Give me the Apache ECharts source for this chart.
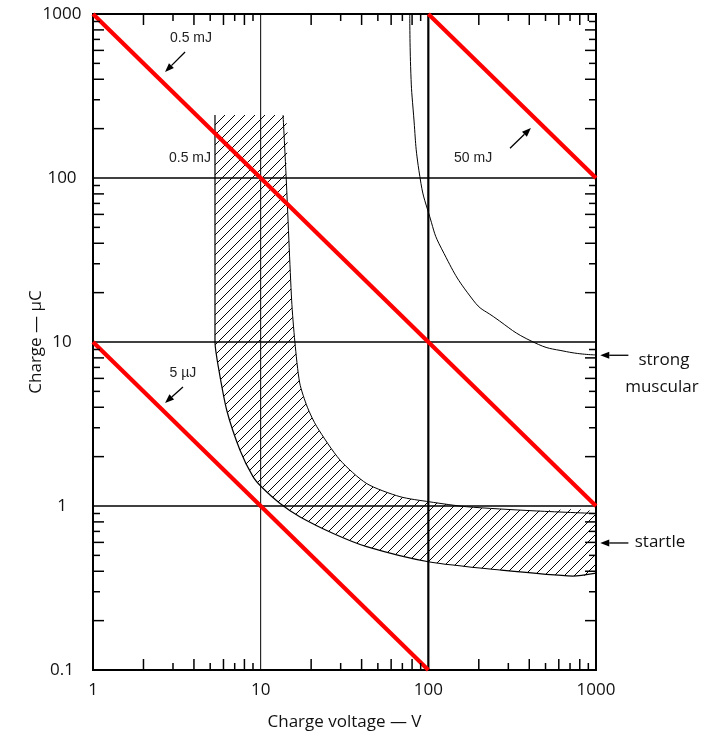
<!DOCTYPE html>
<html>
<head>
<meta charset="utf-8">
<script src="https://cdn.jsdelivr.net/npm/echarts@6/dist/echarts.min.js"></script>
<style>
html, body { margin: 0; padding: 0; background: #fff; }
#chart { width: 722px; height: 741px; }
</style>
</head>
<body>
<div id="chart"></div>
<script>
// tick labels
var xTickLabels = ['1', '10', '100', '1000'];
var yTickLabels = ['0.1', '1', '10', '100', '1000'];
var xDecades = [1, 10, 100];
var yDecades = [0.1, 1, 10, 100];
var minorSteps = [2, 3, 4, 5, 6, 7, 8, 9];

// energy lines (E = QV/2)
var line05mJ = [[1, 1000], [1000, 1]];
var line5uJ = [[1, 10], [100, 0.1]];
var line50mJ = [[100, 1000], [1000, 100]];

// reference lines
var gridY = [1, 10, 100];
var gridXThin = [10];
var gridXThick = [100];

// strong muscular threshold curve
var muscularCurve = [
  [77.5, 1000], [78.4, 478], [81.2, 260], [89, 102], [102, 58], [120, 37],
  [185, 18], [244, 14.3], [422, 10], [668, 8.73], [1000, 8.34]
];

// startle band (hatched)
var startleUpper = [
  [13.6, 242], [14.2, 100], [15.3, 18], [16.0, 10], [17.1, 5.62], [19.0, 4.0],
  [21.6, 3.05], [29.7, 1.91], [42.9, 1.37], [67.7, 1.14], [102, 1.06],
  [169, 0.99], [421, 0.935], [1000, 0.9]
];
var startleLower = [
  [5.34, 242], [5.34, 10], [5.59, 7.06], [6.27, 3.85], [7.53, 2.19], [9.0, 1.51],
  [10.1, 1.31], [13.0, 1.04], [17.1, 0.86], [27.1, 0.68], [42.9, 0.565],
  [100, 0.457], [267, 0.407], [728, 0.374], [1000, 0.39]
];

// annotations
var smallNotes = [
  { text: '0.5 mJ', at: [3.84, 714] },
  { text: '0.5 mJ', at: [3.79, 132] },
  { text: '5 µJ', at: [3.44, 6.47] },
  { text: '50 mJ', at: [185, 132] }
];
var sideNotes = [
  { text: 'strong', at: [2541, 7.76] },
  { text: 'muscular', at: [2474, 5.32] },
  { text: 'startle', at: [2408, 0.602] }
];
var arrows = [
  [[3.54, 586], [2.69, 443]],
  [[3.44, 5.32], [2.69, 4.25]],
  [[307, 152], [409, 202]],
  [[1560, 8.3], [1060, 8.3]],
  [[1560, 0.595], [1060, 0.595]]
];

var LABEL_FONT = '"Open Sans", "Liberation Sans", sans-serif';
var NOTE_FONT = '"Liberation Sans", Arial, sans-serif';

// hatch pattern
var hatch = document.createElement('canvas');
hatch.width = 10; hatch.height = 10;
var g = hatch.getContext('2d');
g.strokeStyle = '#000'; g.lineWidth = 1;
g.beginPath();
g.moveTo(-1, 11); g.lineTo(11, -1);
g.moveTo(-1, 1); g.lineTo(1, -1);
g.moveTo(9, 11); g.lineTo(11, 9);
g.stroke();

// minor tick data
var tickData = [];
xDecades.forEach(function (d) {
  minorSteps.forEach(function (m) { tickData.push([d * m, 0.1, m % 2 === 0 ? 11 : 7, 0]); });
});
yDecades.forEach(function (d) {
  minorSteps.forEach(function (m) { tickData.push([1, d * m, m % 2 === 0 ? 11 : 7, 1]); });
});

function hLine(v) { return [[1, v], [1000, v]]; }
function vLine(v) { return [[v, 0.1], [v, 1000]]; }

function straight(data, width, color, z) {
  return {
    type: 'line', data: data, symbol: 'none', silent: true, z: z,
    lineStyle: { color: color, width: width }
  };
}

var series = [];
gridY.forEach(function (v) { series.push(straight(hLine(v), 1.6, '#000', 2)); });
gridXThin.forEach(function (v) { series.push(straight(vLine(v), 1, '#000', 2)); });
gridXThick.forEach(function (v) { series.push(straight(vLine(v), 2.2, '#000', 2)); });

// keep bezier control points inside the outline's bounding box
var keepInside = [[Infinity, Infinity], [-Infinity, -Infinity]];

series.push({
  type: 'custom', z: 3, silent: true,
  data: [[1, 1]],
  renderItem: function (params, api) {
    var up = startleUpper.map(function (p) { return api.coord(p); });
    var lo = startleLower.map(function (p) { return api.coord(p); });
    var mu = muscularCurve.map(function (p) { return api.coord(p); });
    var poly = lo.concat(up.slice().reverse());
    return {
      type: 'group',
      children: [
        { type: 'polygon', shape: { points: poly, smooth: 0.25, smoothConstraint: keepInside },
          style: { fill: { image: hatch, repeat: 'repeat' }, stroke: null } },
        { type: 'polyline', shape: { points: up, smooth: 0.25, smoothConstraint: keepInside },
          style: { stroke: '#000', lineWidth: 1, fill: null } },
        { type: 'polyline', shape: { points: lo, smooth: 0.25, smoothConstraint: keepInside },
          style: { stroke: '#000', lineWidth: 1.2, fill: null } },
        { type: 'polyline', shape: { points: mu, smooth: 0.5, smoothConstraint: keepInside },
          style: { stroke: '#000', lineWidth: 1, fill: null } }
      ]
    };
  }
});

[line05mJ, line5uJ, line50mJ].forEach(function (d) {
  series.push(straight(d, 4.2, '#ff0000', 5));
});

series.push({
  type: 'custom', z: 6, silent: true, clip: false,
  data: tickData,
  renderItem: function (params, api) {
    var len = api.value(2);
    var kind = api.value(3);
    var a, b;
    if (kind === 0) {
      a = api.coord([api.value(0), 0.1]);
      b = api.coord([api.value(0), 1000]);
      return { type: 'group', children: [
        { type: 'line', shape: { x1: a[0], y1: a[1], x2: a[0], y2: a[1] - len }, style: { stroke: '#000', lineWidth: 1.5 } },
        { type: 'line', shape: { x1: b[0], y1: b[1], x2: b[0], y2: b[1] + len }, style: { stroke: '#000', lineWidth: 1.5 } }
      ] };
    }
    a = api.coord([1, api.value(1)]);
    b = api.coord([1000, api.value(1)]);
    return { type: 'group', children: [
      { type: 'line', shape: { x1: a[0], y1: a[1], x2: a[0] + len, y2: a[1] }, style: { stroke: '#000', lineWidth: 1.5 } },
      { type: 'line', shape: { x1: b[0], y1: b[1], x2: b[0] - len, y2: b[1] }, style: { stroke: '#000', lineWidth: 1.5 } }
    ] };
  }
});

var chart = echarts.init(document.getElementById('chart'), null, { renderer: 'canvas' });
chart.setOption({
  animation: false,
  backgroundColor: '#fff',
  grid: { left: 93, right: 126, top: 14, bottom: 71, show: true, borderColor: '#000', borderWidth: 2 },
  xAxis: {
    type: 'log', logBase: 10, min: 1, max: 1000, splitNumber: 3,
    name: 'Charge voltage — V', nameLocation: 'middle', nameGap: 44, nameMoveOverlap: false,
    nameTextStyle: { fontFamily: LABEL_FONT, fontSize: 17, color: '#111' },
    axisLine: { show: true, lineStyle: { color: '#000', width: 2 } },
    axisTick: { show: false }, splitLine: { show: false },
    axisLabel: {
      fontFamily: LABEL_FONT, fontSize: 17, color: '#111', margin: 12,
      formatter: function (v) { return xTickLabels[Math.round(Math.log10(v))]; }
    }
  },
  yAxis: {
    type: 'log', logBase: 10, min: 0.1, max: 1000, splitNumber: 4,
    name: 'Charge — µC', nameLocation: 'middle', nameGap: 48, nameMoveOverlap: false,
    nameTextStyle: { fontFamily: LABEL_FONT, fontSize: 17, color: '#111' },
    axisLine: { show: true, lineStyle: { color: '#000', width: 2 } },
    axisTick: { show: false }, splitLine: { show: false },
    axisLabel: {
      fontFamily: LABEL_FONT, fontSize: 17, color: '#111', margin: 31, align: 'center',
      formatter: function (v) { return yTickLabels[Math.round(Math.log10(v)) + 1]; }
    }
  },
  series: series
});

// annotations placed from data coordinates
function px(p) { return chart.convertToPixel({ gridIndex: 0 }, p); }
var graphics = [];
smallNotes.forEach(function (n) {
  var p = px(n.at);
  graphics.push({ type: 'text', x: p[0], y: p[1], z: 10,
    style: { text: n.text, font: '14px ' + NOTE_FONT, fill: '#222', align: 'center', verticalAlign: 'middle' } });
});
sideNotes.forEach(function (n) {
  var p = px(n.at);
  graphics.push({ type: 'text', x: p[0], y: p[1], z: 10,
    style: { text: n.text, font: '17px ' + LABEL_FONT, fill: '#111', align: 'center', verticalAlign: 'middle' } });
});
arrows.forEach(function (a) {
  var p1 = px(a[0]), p2 = px(a[1]);
  var dx = p2[0] - p1[0], dy = p2[1] - p1[1];
  var L = Math.sqrt(dx * dx + dy * dy);
  var ux = dx / L, uy = dy / L;
  var hl = 9, hw = 3.5;
  var bx = p2[0] - ux * hl, by = p2[1] - uy * hl;
  graphics.push({ type: 'line', z: 10, shape: { x1: p1[0], y1: p1[1], x2: bx, y2: by }, style: { stroke: '#000', lineWidth: 1.3 } });
  graphics.push({ type: 'polygon', z: 10, shape: { points: [
    [p2[0], p2[1]], [bx - uy * hw, by + ux * hw], [bx + uy * hw, by - ux * hw]
  ] }, style: { fill: '#000' } });
});
chart.setOption({ graphic: graphics });
</script>
</body>
</html>
